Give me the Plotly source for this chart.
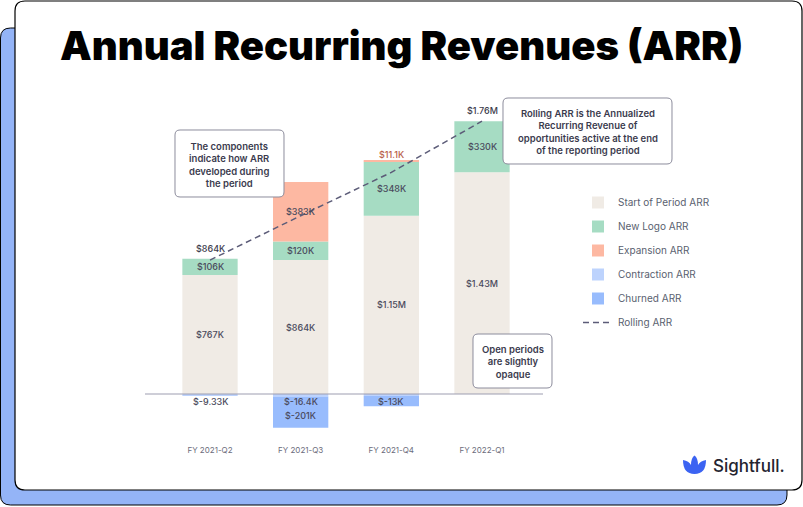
import plotly.graph_objects as go

# ---------------- data ----------------
periods = ["FY 2021-Q2", "FY 2021-Q3", "FY 2021-Q4", "FY 2022-Q1"]
start_arr = [767000, 864000, 1150000, 1430000]
new_logo_arr = [106000, 120000, 348000, 330000]
expansion_arr = [0, 383000, 11100, 0]
contraction_arr = [-9330, -16400, -13000, 0]
churned_arr = [0, -201000, -66000, 0]
rolling_arr = [864000, 1150000, 1430000, 1760000]

start_lbl = ["$767K", "$864K", "$1.15M", "$1.43M"]
new_logo_lbl = ["$106K", "$120K", "$348K", "$330K"]
expansion_lbl = ["", "$383K", "$11.1K", ""]
contraction_lbl = ["$-9.33K", "$-16.4K", "$-13K", ""]
churned_lbl = ["", "$-201K", "", ""]
rolling_lbl = ["$864K", "", "", "$1.76M"]

# ---------------- styling ----------------
W, H = 803, 507
C_START = "#f0ebe5"
C_NEW = "#a6dcc3"
C_EXP = "#fdb8a2"
C_CON = "#bdd3fd"
C_CHURN = "#98bcfd"
C_ROLL = "#5c5c78"
LBL = "#4a4a5c"
FONT = "Inter"


def px(x):
    return x / W


def py(y):
    return 1 - y / H


def rrect(x0, y0, x1, y1, r):
    pts = [
        ("M", [(x0 + r, y0)]), ("L", [(x1 - r, y0)]), ("Q", [(x1, y0), (x1, y0 + r)]),
        ("L", [(x1, y1 - r)]), ("Q", [(x1, y1), (x1 - r, y1)]), ("L", [(x0 + r, y1)]),
        ("Q", [(x0, y1), (x0, y1 - r)]), ("L", [(x0, y0 + r)]), ("Q", [(x0, y0), (x0 + r, y0)]),
    ]
    s = ""
    for cmd, ps in pts:
        s += cmd + " " + " ".join(f"{px(a):.5f},{py(b):.5f}" for a, b in ps) + " "
    return s + "Z"


fig = go.Figure()

series = [
    ("Start of Period ARR", start_arr, C_START),
    ("New Logo ARR", new_logo_arr, C_NEW),
    ("Expansion ARR", expansion_arr, C_EXP),
    ("Contraction ARR", contraction_arr, C_CON),
    ("Churned ARR", churned_arr, C_CHURN),
]
for i, (name, vals, col) in enumerate(series):
    fig.add_trace(go.Bar(
        x=periods, y=vals, name=name, marker=dict(color=col, line=dict(width=0)),
        legendgroup=f"g{i}", hoverinfo="name+y",
    ))

fig.add_trace(go.Scatter(
    x=periods, y=rolling_arr, name="Rolling ARR", mode="lines",
    line=dict(color=C_ROLL, width=1.5, dash="6px,4px"),
    legendgroup="g5", cliponaxis=False,
))

# ---------------- segment labels ----------------
ann = []


def seg_label(x, y, text, color=LBL, anchor="middle", shift=0):
    if not text:
        return
    ann.append(dict(x=x, y=y, xref="x", yref="y", text=text, showarrow=False,
                    yanchor=anchor, yshift=shift,
                    font=dict(family=FONT, size=9, color=color, weight=500)))


SMALL = 30000
for i, p in enumerate(periods):
    s, n, e = start_arr[i], new_logo_arr[i], expansion_arr[i]
    c, ch = contraction_arr[i], churned_arr[i]
    seg_label(p, s / 2, start_lbl[i])
    seg_label(p, s + n / 2, new_logo_lbl[i])
    if abs(e) < SMALL:
        seg_label(p, s + n + e, expansion_lbl[i], color="#b8604a", anchor="bottom", shift=-2)
    else:
        seg_label(p, s + n + e / 2, expansion_lbl[i])
    if abs(c) < SMALL:
        seg_label(p, 0, contraction_lbl[i], anchor="top", shift=0)
    else:
        seg_label(p, c / 2, contraction_lbl[i])
    seg_label(p, c + ch / 2, churned_lbl[i], shift=-3)
    # rolling ARR total labels above the stack
    top = s + n + max(e, 0)
    seg_label(p, max(top, rolling_arr[i]), rolling_lbl[i], color="#3c3c4c", anchor="bottom", shift=3)

# ---------------- title, callouts, logo ----------------
ann.append(dict(x=0.5, y=py(45), xref="paper", yref="paper", text="Annual Recurring Revenues (ARR)",
                showarrow=False, xanchor="center", yanchor="middle",
                font=dict(family=FONT, size=40, color="#000000", weight=900)))

callout_font = dict(family=FONT, size=9.5, color="#3b3b4e", weight=600)
callouts = [
    ((175, 130, 284, 197), "The components<br>indicate how ARR<br>developed during<br>the period"),
    ((503, 98, 672, 164), "Rolling ARR is the Annualized<br>Recurring Revenue of<br>opportunities active at the end<br>of the reporting period"),
    ((473, 334, 552, 388), "Open periods<br>are slightly<br>opaque"),
]
shapes = [
    dict(type="path", path=rrect(0.5, 28, 787, 505, 10), xref="paper", yref="paper",
         fillcolor="#94b4f7", line=dict(color="#000000", width=1), layer="below"),
    dict(type="path", path=rrect(15, 1, 802, 490, 10), xref="paper", yref="paper",
         fillcolor="#ffffff", line=dict(color="#000000", width=1.2), layer="below"),
    dict(type="line", xref="x domain", yref="y", x0=0, x1=1, y0=0, y1=0,
         line=dict(color="#9d9db0", width=1), layer="above"),
]
for (x0, y0, x1, y1), txt in callouts:
    shapes.append(dict(type="path", path=rrect(x0, y0, x1, y1, 5), xref="paper", yref="paper",
                       fillcolor="#ffffff", line=dict(color="#8c8c9c", width=1), layer="above"))
    ann.append(dict(x=px((x0 + x1) / 2), y=py((y0 + y1) / 2 + 1), xref="paper", yref="paper",
                    text=txt, showarrow=False, xanchor="center", yanchor="middle",
                    align="center", font=callout_font))

# logo: tulip icon + wordmark
logo = ("M {a} Q {b} {c} Q {d} {e} Q {f} {g} Q {h} {i} Q {j} {k} Q {l} {m} Z").format(
    a=f"{px(683):.5f},{py(460):.5f}",
    b=f"{px(683):.5f},{py(474):.5f}", c=f"{px(694.5):.5f},{py(474):.5f}",
    d=f"{px(706):.5f},{py(474):.5f}", e=f"{px(706):.5f},{py(460):.5f}",
    f=f"{px(700):.5f},{py(461):.5f}", g=f"{px(698):.5f},{py(465):.5f}",
    h=f"{px(698):.5f},{py(458):.5f}", i=f"{px(694.5):.5f},{py(455.5):.5f}",
    j=f"{px(691):.5f},{py(458):.5f}", k=f"{px(691):.5f},{py(465):.5f}",
    l=f"{px(689):.5f},{py(461):.5f}", m=f"{px(683):.5f},{py(460):.5f}",
)
shapes.append(dict(type="path", path=logo, xref="paper", yref="paper",
                   fillcolor="#3b63f2", line=dict(width=0), layer="above"))
ann.append(dict(x=px(711), y=py(466), xref="paper", yref="paper", text="Sightfull.",
                showarrow=False, xanchor="left", yanchor="middle",
                font=dict(family=FONT, size=17, color="#24242f", weight=500)))

# ---------------- axes / layout ----------------
zero_px, top_px, bot_px = 394, 100, 440
scale = 0.155 / 1000  # px per dollar
y_top = (zero_px - top_px) / scale
y_bot = (zero_px - bot_px) / scale
x_left_px, x_right_px, c0_px, c3_px = 145, 543, 210, 482
unit = (c3_px - c0_px) / 3

fig.update_layout(
    width=W, height=H,
    margin=dict(l=0, r=0, t=0, b=0),
    paper_bgcolor="#ffffff", plot_bgcolor="rgba(0,0,0,0)",
    barmode="relative", bargap=0.39,
    showlegend=True,
    legend=dict(x=px(578), y=py(188), xanchor="left", yanchor="top",
                font=dict(family=FONT, size=10, color="#5a5f70"),
                bgcolor="rgba(0,0,0,0)", tracegroupgap=5, traceorder="grouped",
                itemwidth=30),
    xaxis=dict(domain=[px(x_left_px), px(x_right_px)],
               range=[-(c0_px - x_left_px) / unit, 3 + (x_right_px - c3_px) / unit],
               showgrid=False, showline=False, zeroline=False, ticks="",
               ticklabelstandoff=4,
               tickfont=dict(family=FONT, size=8, color="#6b6b7b")),
    yaxis=dict(domain=[py(bot_px), py(top_px)], range=[y_bot, y_top],
               visible=False, showgrid=False, zeroline=False),
    shapes=shapes,
    annotations=ann,
    font=dict(family=FONT),
)

fig.write_html("out.html")
